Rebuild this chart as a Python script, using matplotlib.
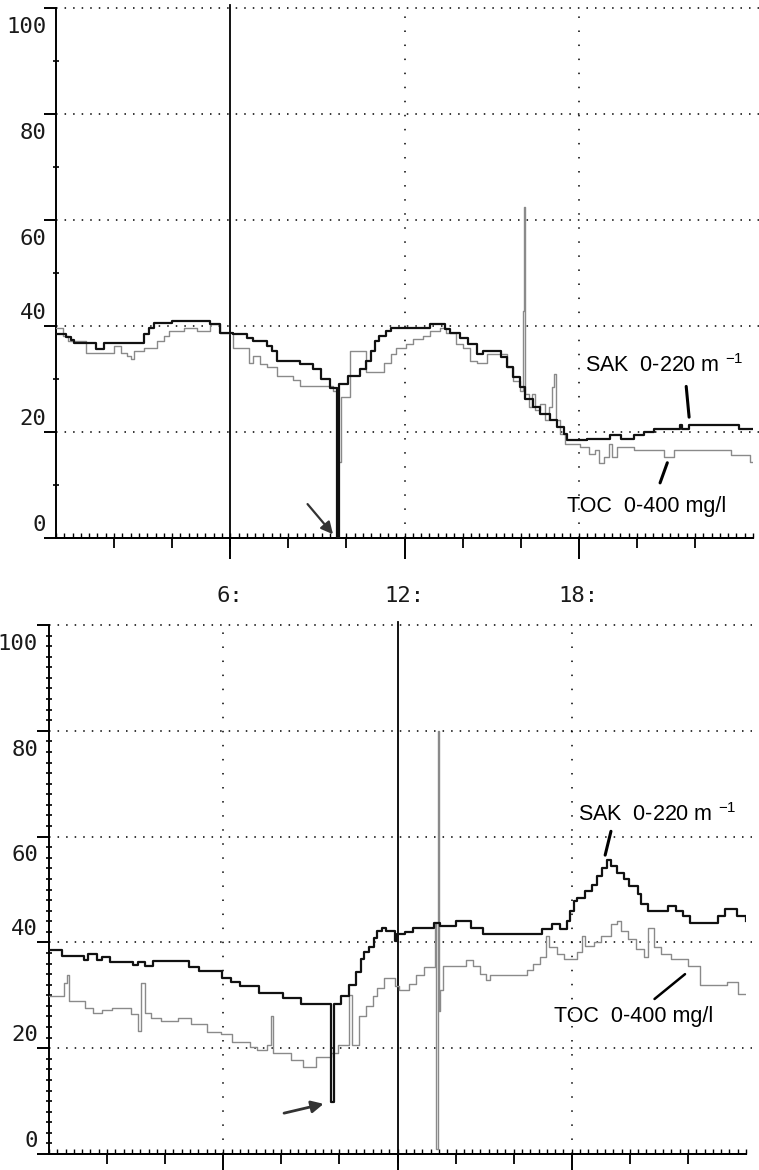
import matplotlib
matplotlib.use("Agg")
import matplotlib.pyplot as plt
import numpy as np

plt.rcParams["mathtext.fontset"] = "custom"
plt.rcParams["mathtext.rm"] = "Liberation Sans"
plt.rcParams["mathtext.it"] = "Liberation Sans:italic"
plt.rcParams["mathtext.sf"] = "Liberation Sans"

# ---------------- data (hours, value in % of range) ----------------
top_sak_h = [0.0, 0.34, 0.51, 0.63, 1.37, 1.66, 3.03, 3.2, 3.37, 4.0, 5.31, 5.66,
             6.11, 6.57, 6.8, 7.26, 7.45, 7.6, 8.4, 8.86, 9.14, 9.43, 9.66, 9.75,
             10.06, 10.46, 10.69, 10.86, 10.97, 11.13, 11.37, 11.54, 12.87, 13.38,
             13.56, 13.9, 14.19, 14.48, 14.71, 15.34, 15.52, 15.75, 15.98, 16.15,
             16.44, 16.67, 17.02, 17.25, 17.48, 17.59, 18.29, 19.09, 19.44, 19.9,
             20.25, 20.6, 21.5, 21.57, 21.8, 23.53, 24.0]
top_sak_v = [38.4, 37.9, 37.3, 36.75, 35.75, 36.75, 38.4, 39.7, 40.6, 41.0, 40.3, 38.75,
             38.4, 37.8, 37.2, 36.25, 35.3, 33.4, 32.8, 31.9, 30.0, 28.3, 0.0, 29.0,
             30.6, 31.9, 33.4, 35.3, 37.2, 38.1, 39.1, 39.7, 40.3, 39.4,
             38.75, 37.8, 36.6, 34.7, 35.3, 34.1, 32.2, 30.3, 28.4, 26.25,
             24.7, 23.4, 22.2, 20.9, 19.7, 18.4, 18.75, 19.4, 18.75, 19.4,
             20.0, 20.6, 21.25, 20.6, 21.25, 20.6, 20.6]

top_toc_h = [0.0, 0.23, 0.4, 1.03, 2.0, 2.23, 2.46, 2.57, 2.69, 3.03, 3.49, 3.71, 3.89,
             4.4, 4.86, 5.31, 5.66, 6.11, 6.63, 6.8, 7.03, 7.26, 7.6, 8.17, 8.4, 9.54,
             9.68, 9.83, 10.11, 10.69, 11.31, 11.54, 11.71, 12.06, 12.29, 12.63, 12.87,
             13.21, 13.44, 13.79, 14.02, 14.25, 14.48, 14.83, 15.52, 15.75, 15.98,
             16.07, 16.12, 16.16, 16.27, 16.38, 16.5, 16.67, 16.84, 16.96, 17.07,
             17.16, 17.23, 17.36, 17.54, 18.06, 18.35, 18.57, 18.69, 18.86, 19.04,
             19.15, 19.32, 19.9, 20.94, 21.28, 23.25, 23.88, 24.0]
top_toc_v = [39.7, 38.1, 37.2, 35.0, 36.25, 35.0, 34.4, 33.75, 35.3, 35.9, 37.2, 38.1, 39.1,
             39.7, 39.1, 40.3, 38.75, 35.9, 33.1, 34.4, 32.8, 32.2, 30.6, 29.75, 28.75, 27.8,
             14.4, 26.6, 35.3, 31.25, 33.1, 34.7, 35.9, 36.6, 37.5, 38.1, 39.1,
             39.7, 38.75, 36.6, 35.9, 33.4, 33.1, 34.7, 32.2, 29.7, 27.8,
             42.8, 62.5, 27.2, 24.7, 27.2, 24.1, 25.3, 22.2, 24.7, 28.4,
             30.9, 22.2, 19.7, 17.8, 17.2, 15.9, 16.6, 14.1, 15.3, 17.8,
             15.3, 17.2, 16.6, 15.3, 16.6, 15.6, 14.4, 14.4]

bot_sak_h = [0.0, 0.45, 1.19, 1.36, 1.65, 1.82, 2.1, 2.9, 3.07, 3.3, 3.58, 4.83, 5.17,
             5.97, 6.25, 6.59, 7.22, 8.07, 8.69, 9.72, 9.83, 10.06, 10.34, 10.57, 10.74,
             10.85, 11.02, 11.19, 11.3, 11.48, 11.59, 11.91, 11.99, 12.27, 12.55, 13.27,
             13.45, 14.02, 14.54, 14.95, 16.97, 17.32, 17.61, 17.84, 17.95, 18.07, 18.18,
             18.47, 18.71, 18.88, 19.05, 19.23, 19.34, 19.57, 19.8, 19.98, 20.27, 20.38,
             20.61, 21.31, 21.6, 21.83, 22.06, 23.04, 23.27, 23.68, 24.0]
bot_sak_v = [38.5, 37.5, 36.7, 37.8, 36.6, 37.2, 36.3, 35.7, 36.3, 35.5, 36.4, 35.4, 34.6,
             33.2, 32.6, 31.7, 30.4, 29.4, 28.4, 9.75, 28.4, 29.8, 32.0, 34.4, 36.9,
             38.1, 39.1, 40.9, 42.2, 42.8, 42.2, 40.3, 41.5, 41.9, 42.8, 43.75,
             43.1, 44.1, 42.8, 41.6, 42.5, 43.4, 42.5, 44.1, 45.9, 47.8, 48.4,
             49.7, 50.9, 52.5, 54.1, 55.6, 54.4, 53.1, 51.9, 50.6, 49.1, 47.2,
             45.9, 46.9, 45.9, 45.0, 43.75, 45.0, 46.25, 45.0, 44.1]

bot_toc_h = [0.0, 0.51, 0.63, 0.7, 1.25, 1.53, 1.82, 2.16, 2.84, 3.05, 3.16, 3.3, 3.52,
             3.86, 4.43, 4.89, 5.45, 5.91, 6.31, 6.93, 7.16, 7.5, 7.65, 7.73, 8.35, 8.75,
             9.2, 9.72, 9.94, 10.34, 10.43, 10.66, 10.91, 11.14, 11.31, 11.53, 11.93,
             12.06, 12.4, 12.64, 12.92, 13.3, 13.34, 13.38, 13.42, 13.47, 13.55, 14.37,
             14.6, 14.83, 15.06, 15.18, 16.45, 16.68, 16.91, 17.12, 17.2, 17.49, 17.72,
             18.18, 18.36, 18.44, 18.76, 18.99, 19.34, 19.57, 19.69, 19.92, 20.21, 20.5,
             20.61, 20.84, 21.08, 21.42, 22.0, 22.4, 23.33, 23.73, 24.0]
bot_toc_v = [29.8, 32.3, 33.8, 28.9, 27.6, 26.7, 27.3, 27.6, 26.4, 23.3, 32.3, 26.7, 25.8,
             25.2, 25.8, 24.6, 23.0, 22.7, 21.2, 20.2, 19.6, 20.6, 26.1, 19.0, 17.8, 16.5,
             18.4, 19.0, 20.6, 30.1, 20.6, 26.1, 28.0, 29.8, 31.4, 33.2, 31.7,
             31.0, 32.2, 33.75, 35.3, 43.7, 1.0, 80.0, 27.0, 31.0, 35.6, 36.6,
             35.6, 34.1, 32.8, 33.75, 34.7, 35.9, 37.2, 41.25, 39.1, 37.8, 36.9,
             38.1, 41.25, 39.4, 40.0, 41.25, 43.4, 44.1, 42.2, 40.6, 38.75, 37.2,
             42.8, 39.1, 37.8, 36.9, 35.6, 31.9, 32.5, 30.3, 30.3]

y_ticks = [0, 20, 40, 60, 80, 100]
y_tick_labels = ["0", "20", "40", "60", "80", "100"]
x_major_hours = [6, 12, 18]
x_major_labels = ["6:", "12:", "18:"]
x_medium_hours = [2, 4, 8, 10, 14, 16, 20, 22]

sak_label = "SAK  0-220 m $^{-1}$"
toc_label = "TOC  0-400 mg/l"

# ---------------- figure ----------------
W, H = 759, 1170
fig = plt.figure(figsize=(W / 100, H / 100), dpi=100)
fig.patch.set_facecolor("white")

ax1 = fig.add_axes([56 / W, (H - 538) / H, 697 / W, 530 / H])
ax2 = fig.add_axes([49 / W, (H - 1154) / H, 697 / W, 529 / H])

mono = "DejaVu Sans Mono"
label_offsets = {0: 9.5, 20: 9.5, 40: 9.5, 60: -13.5, 80: -13.5, 100: -13.5}


def style_axes(ax, solid_hour, dotted_hours, y_minor_step, label_pad):
    ax.set_xlim(0, 24)
    ax.set_ylim(0, 100)
    for s in ("top", "right"):
        ax.spines[s].set_visible(False)
    for s in ("left", "bottom"):
        ax.spines[s].set_linewidth(1.4)
        ax.spines[s].set_color("black")
    for v in y_ticks[1:]:
        ax.plot([0, 24.2], [v, v], ls=(0, (1, 4.6)), lw=1.1, color="black",
                clip_on=False, zorder=1)
    for hh in dotted_hours:
        ax.plot([hh, hh], [0, 100], ls=(0, (1, 8.2)), lw=1.1, color="black",
                clip_on=False, zorder=1)
    ax.plot([solid_hour, solid_hour], [-1.5, 100.5], lw=1.3, color="black",
            clip_on=False, zorder=3)
    ax.set_xticks(x_major_hours)
    ax.set_xticklabels([])
    ax.set_xticks(x_medium_hours, minor=True)
    ax.tick_params(axis="x", which="major", direction="out", length=15, width=1.4)
    ax.tick_params(axis="x", which="minor", direction="out", length=7, width=1.3)
    ax.set_yticks(y_ticks)
    ax.set_yticklabels([])
    ax.set_yticks(np.arange(0, 100.1, y_minor_step), minor=True)
    ax.tick_params(axis="y", which="major", direction="out", length=9, width=1.4)
    ax.tick_params(axis="y", which="minor", direction="inout", length=5, width=1.2)
    sec = ax.secondary_xaxis("bottom")
    sec.set_xticks(np.arange(0, 24.01, 2 / 7))
    sec.set_xticklabels([])
    sec.tick_params(direction="in", length=3.5, width=1.0)
    sec.spines["bottom"].set_linewidth(1.4)
    for v, lab in zip(y_ticks, y_tick_labels):
        ax.annotate(lab, xy=(0, v), xycoords=("axes fraction", "data"),
                    xytext=(-label_pad, label_offsets[v]), textcoords="offset points",
                    ha="right", va="center", fontsize=16, family=mono,
                    color="#1a1a1a")


style_axes(ax1, 6, [12, 18], 10, 7)
style_axes(ax2, 12, [6, 18], 2, 8)

for ax, (th, tv), (sh, sv) in [
    (ax1, (top_toc_h, top_toc_v), (top_sak_h, top_sak_v)),
    (ax2, (bot_toc_h, bot_toc_v), (bot_sak_h, bot_sak_v)),
]:
    ax.plot(th, tv, drawstyle="steps-post", color="#8a8a8a", lw=1.0, zorder=4)
    ax.plot(sh, sv, drawstyle="steps-post", color="#111111", lw=1.6, zorder=5)

for hh, lab in zip(x_major_hours, x_major_labels):
    ax1.annotate(lab, xy=(hh, 0), xycoords="data", xytext=(0, -42),
                 textcoords="offset points", ha="center", va="center",
                 fontsize=16, family=mono, color="#1a1a1a")

fs = 15.5
# annotations, top panel
ax1.text(18.2, 32.6, sak_label, fontsize=fs, family="Liberation Sans", va="center")
ax1.plot([21.7, 21.8], [28.6, 22.8], color="black", lw=2.2, solid_capstyle="round")
ax1.text(17.6, 5.9, toc_label, fontsize=fs, family="Liberation Sans", va="center")
ax1.plot([20.8, 21.05], [10.4, 14.2], color="black", lw=2.2, solid_capstyle="round")
ax1.annotate("", xy=(9.6, 0.3), xytext=(8.6, 6.8),
             arrowprops=dict(arrowstyle="-|>", lw=1.6, color="#333333",
                             mutation_scale=18))

# annotations, bottom panel
ax2.text(18.2, 64.1, sak_label, fontsize=fs, family="Liberation Sans", va="center")
ax2.plot([19.35, 19.15], [61.0, 56.5], color="black", lw=2.2, solid_capstyle="round")
ax2.text(17.4, 25.9, toc_label, fontsize=fs, family="Liberation Sans", va="center")
ax2.plot([21.9, 20.85], [34.0, 29.3], color="black", lw=1.8, solid_capstyle="round")
ax2.annotate("", xy=(9.55, 9.6), xytext=(8.0, 7.6),
             arrowprops=dict(arrowstyle="-|>", lw=2.0, color="#333333",
                             mutation_scale=18))

fig.savefig("out.png", dpi=100, facecolor="white")
